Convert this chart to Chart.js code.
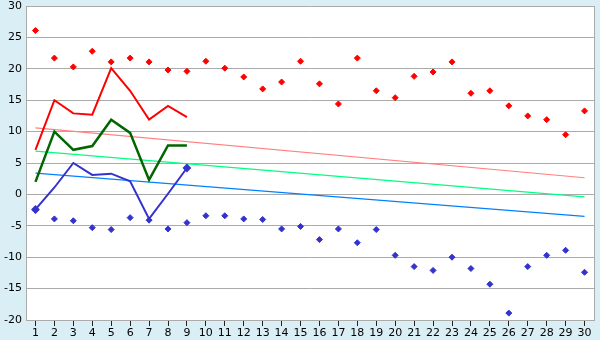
<!DOCTYPE html>
<html lang="en">
<head>
    <meta charset="UTF-8">
    <title>Temperatures</title>
    <script src="https://cdn.jsdelivr.net/npm/chart.js"></script>
    <style>
        html, body {
            margin: 0;
            padding: 0;
            background-color: #daeff5;
        }
        .chart-container {
            width: 600px;
            height: 340px;
        }
    </style>
</head>
<body>
    <div class="chart-container">
        <canvas id="tempChart"></canvas>
    </div>

    <script>
        const days = [];
        for (let d = 1; d <= 30; d++) days.push(String(d));

        // scattered daily maxima / minima (diamonds)
        const maxPoints = [26.1, 21.7, 20.3, 22.8, 21.1, 21.7, 21.1, 19.8, 19.6, 21.2,
                           20.1, 18.7, 16.8, 17.9, 21.2, 17.6, 14.4, 21.7, 16.5, 15.4,
                           18.8, 19.5, 21.1, 16.1, 16.5, 14.1, 12.5, 11.9, 9.5, 13.3];
        const minPoints = [-2.5, -3.9, -4.2, -5.3, -5.6, -3.7, -4.1, -5.5, -4.5, -3.4,
                           -3.4, -3.9, -4.0, -5.5, -5.1, -7.2, -5.5, -7.7, -5.6, -9.7,
                           -11.5, -12.1, -10.0, -11.8, -14.3, -18.9, -11.5, -9.7, -8.9, -12.4];

        // current month lines (days 1-9)
        const highLine = [7.1, 15.0, 12.9, 12.7, 20.1, 16.5, 11.9, 14.1, 12.3];
        const meanLine = [2.0, 10.0, 7.1, 7.7, 11.9, 9.8, 2.3, 7.8, 7.8];
        const lowLine = [-2.4, 1.1, 5.0, 3.1, 3.3, 2.1, -3.9, 0.1, 4.2];

        // trend lines: start (day 1) and end (day 30)
        const highTrend = [10.6, 2.65];
        const meanTrend = [6.9, -0.4];
        const lowTrend = [3.4, -3.5];

        const yTicks = [-20, -15, -10, -5, 0, 5, 10, 15, 20, 25, 30];

        function trendData(ends) {
            const arr = days.map(() => null);
            arr[0] = ends[0];
            arr[arr.length - 1] = ends[1];
            return arr;
        }

        const backgroundPlugin = {
            id: 'background',
            beforeDraw(chart) {
                const ctx = chart.ctx;
                const a = chart.chartArea;
                ctx.save();
                ctx.fillStyle = '#daeff5';
                ctx.fillRect(0, 0, chart.width, chart.height);
                ctx.fillStyle = '#ffffff';
                ctx.fillRect(a.left, a.top, a.right - a.left, a.bottom - a.top);
                ctx.strokeStyle = '#aaaaaa';
                ctx.lineWidth = 1;
                ctx.beginPath();
                ctx.moveTo(a.right + 0.5, a.top);
                ctx.lineTo(a.right + 0.5, a.bottom);
                ctx.stroke();
                ctx.restore();
            }
        };

        const diamond = {
            showLine: false,
            pointStyle: 'rectRot',
            pointRadius: 3,
            borderWidth: 1
        };

        const ctx = document.getElementById('tempChart').getContext('2d');
        new Chart(ctx, {
            type: 'line',
            data: {
                labels: days,
                datasets: [
                    Object.assign({ data: maxPoints, backgroundColor: '#ff0000', borderColor: '#ff0000' }, diamond),
                    Object.assign({ data: minPoints, backgroundColor: '#3333cc', borderColor: '#3333cc' }, diamond),
                    { data: highLine, borderColor: '#ff0000', borderWidth: 2, pointRadius: 0, tension: 0 },
                    { data: meanLine, borderColor: '#006600', borderWidth: 2.5, pointRadius: 0, tension: 0 },
                    {
                        data: lowLine, borderColor: '#3333cc', backgroundColor: '#3333cc', borderWidth: 2, tension: 0,
                        pointStyle: 'rectRot',
                        pointRadius: c => (c.dataIndex === 0 || c.dataIndex === lowLine.length - 1) ? 3 : 0
                    },
                    { data: trendData(highTrend), borderColor: '#ff8080', borderWidth: 1.2, pointRadius: 0, spanGaps: true },
                    { data: trendData(meanTrend), borderColor: '#00ff80', borderWidth: 1.2, pointRadius: 0, spanGaps: true },
                    { data: trendData(lowTrend), borderColor: '#0080ff', borderWidth: 1.2, pointRadius: 0, spanGaps: true }
                ]
            },
            options: {
                responsive: true,
                maintainAspectRatio: false,
                animation: false,
                layout: { padding: { top: 0, right: 4, left: 0, bottom: 0 } },
                plugins: {
                    legend: { display: false },
                    tooltip: { enabled: false }
                },
                scales: {
                    x: {
                        offset: true,
                        grid: {
                            offset: false,
                            drawOnChartArea: false,
                            drawTicks: true,
                            tickLength: 6,
                            color: '#222222'
                        },
                        border: { color: '#aaaaaa' },
                        ticks: {
                            color: '#000000',
                            font: { family: 'DejaVu Sans', size: 11 },
                            padding: 1,
                            maxRotation: 0,
                            autoSkip: false
                        },
                        afterFit(scale) { scale.height = 20; }
                    },
                    y: {
                        min: -20,
                        max: 30,
                        afterBuildTicks(scale) { scale.ticks = yTicks.map(v => ({ value: v })); },
                        grid: { color: '#aaaaaa', drawTicks: false },
                        border: { color: '#aaaaaa' },
                        ticks: {
                            color: '#000000',
                            font: { family: 'DejaVu Sans', size: 11 },
                            padding: 4
                        },
                        afterFit(scale) {
                            scale.width = 26;
                            scale.paddingTop = 5;
                            scale.paddingBottom = 0;
                        }
                    }
                }
            },
            plugins: [backgroundPlugin]
        });
    </script>
</body>
</html>
